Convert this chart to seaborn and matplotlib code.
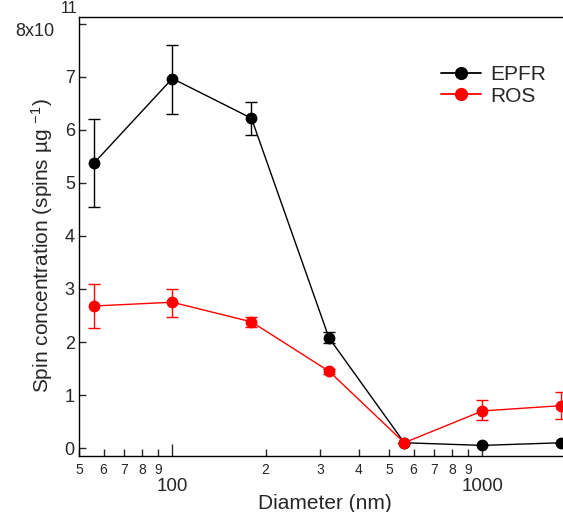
import matplotlib
matplotlib.use("Agg")
import matplotlib.pyplot as plt
import matplotlib.ticker as mticker
import numpy as np
import pandas as pd
import seaborn as sns

# impactor stage diameters (nm)
diameters = [56, 100, 180, 320, 560, 1000, 1800]

# spin concentration, units of 1e11 spins/ug
epfr = [5.38, 6.97, 6.22, 2.08, 0.10, 0.05, 0.10]
epfr_lo = [0.83, 0.67, 0.32, 0.10, 0.0, 0.0, 0.0]
epfr_hi = [0.82, 0.63, 0.30, 0.10, 0.0, 0.0, 0.0]

ros = [2.68, 2.75, 2.38, 1.45, 0.10, 0.70, 0.80]
ros_lo = [0.41, 0.27, 0.10, 0.05, 0.0, 0.18, 0.25]
ros_hi = [0.42, 0.25, 0.10, 0.05, 0.0, 0.20, 0.25]

yticks = [0, 1, 2, 3, 4, 5, 6, 7, 8]
# top tick is written by hand below so the exponent can be big
ytick_labels = ["0", "1", "2", "3", "4", "5", "6", "7", ""]

sns.set_style("ticks")
plt.rcParams['font.family'] = ['Liberation Sans', 'DejaVu Sans']
plt.rcParams['mathtext.fontset'] = 'custom'
plt.rcParams['mathtext.rm'] = 'Liberation Sans'
plt.rcParams['mathtext.it'] = 'Liberation Sans:italic'

df = pd.DataFrame({
    "Diameter": diameters * 2,
    "value": epfr + ros,
    "series": ["EPFR"] * len(diameters) + ["ROS"] * len(diameters),
})
colors = {"EPFR": "black", "ROS": "red"}

fig = plt.figure(figsize=(5.63, 5.12), dpi=100)
# axes runs past the right edge of the figure, as in the original crop
ax = fig.add_axes([79 / 563, 1 - 456 / 512, (575 - 79) / 563, (456 - 17) / 512])

for name, lo, hi in [("EPFR", epfr_lo, epfr_hi), ("ROS", ros_lo, ros_hi)]:
    sub = df[df.series == name]
    ax.errorbar(sub.Diameter, sub.value, yerr=[lo, hi], fmt="none",
                ecolor=colors[name], elinewidth=1, capsize=4.5, capthick=1, zorder=2)

sns.lineplot(data=df, x="Diameter", y="value", hue="series", palette=colors,
             marker="o", markersize=8.5, markeredgewidth=0, linewidth=1,
             ax=ax, zorder=3)

ax.set_xscale("log")
ax.set_xlim(50, 1990)
ax.set_ylim(-0.15, 8.13)

ax.set_yticks(yticks)
ax.set_yticklabels(ytick_labels)
ytrans = ax.get_yaxis_transform()
ax.text(-0.05, 7.86, "8x10", transform=ytrans, ha="right", va="center", fontsize=13)
ax.text(-0.004, 8.2, "11", transform=ytrans, ha="right", va="baseline", fontsize=11.5)

ax.xaxis.set_major_locator(mticker.FixedLocator([100, 1000]))
ax.xaxis.set_major_formatter(mticker.FixedFormatter(["100", "1000"]))
ax.xaxis.set_minor_locator(mticker.LogLocator(base=10, subs=np.arange(2, 10)))
ax.xaxis.set_minor_formatter(mticker.FuncFormatter(
    lambda v, p: f"{int(round(v / 10 ** np.floor(np.log10(v) + 1e-9)))}"))

ax.tick_params(axis="y", direction="in", length=5, width=1, labelsize=13, pad=3)
ax.tick_params(axis="x", which="major", direction="in", length=9, width=1,
               labelsize=13.5, pad=16)
ax.tick_params(axis="x", which="minor", direction="in", length=5, width=1,
               labelsize=10, pad=5)

for s in ax.spines.values():
    s.set_linewidth(1)
    s.set_color("black")

ax.set_xlabel("Diameter (nm)", fontsize=15)
ax.set_ylabel("Spin concentration (spins \u00b5g $^{-1}$)", fontsize=15)
ax.xaxis.set_label_coords(0.496, -0.087)
ax.yaxis.set_label_coords(-0.048, 0.48)

leg = ax.legend(loc="upper left", bbox_to_anchor=(0.73, 0.89), frameon=False,
                fontsize=15, handlelength=1.9, handletextpad=0.45,
                labelspacing=0.12, borderaxespad=0, borderpad=0, title=None)
for h in leg.legend_handles:
    h.set_markersize(9.5)
    h.set_linewidth(1.3)

fig.savefig("out.png", dpi=100)
